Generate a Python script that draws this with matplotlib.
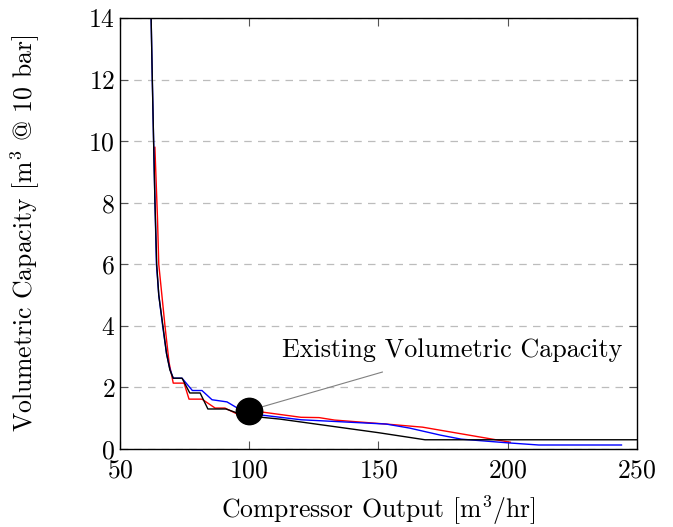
import matplotlib
matplotlib.use('Agg')
import matplotlib.pyplot as plt

# LaTeX-like look
plt.rcParams['font.family'] = 'serif'
plt.rcParams['font.serif'] = ['cmr10', 'DejaVu Serif']
plt.rcParams['mathtext.fontset'] = 'cm'
plt.rcParams['axes.formatter.use_mathtext'] = True

# data
black_x = [62, 62.5, 63, 63.5, 64.2, 65, 66.6, 68, 69.3, 70.6, 74, 77, 81, 84, 91, 97,
           100, 112, 150, 168, 250]
black_y = [14.2, 12, 10, 8.1, 6.0, 5.0, 4.0, 3.1, 2.57, 2.3, 2.3, 1.82, 1.82, 1.3, 1.3, 1.12,
           1.07, 0.97, 0.53, 0.3, 0.3]

blue_x = [62, 62.5, 63, 63.5, 64.1, 65, 66.5, 68, 69.3, 70.6, 74, 78, 81.7, 85.6, 91.4, 96,
          100, 120, 153, 162, 174, 182, 200, 212, 244]
blue_y = [14.2, 12, 10, 8.1, 6.0, 5.0, 4.0, 3.1, 2.6, 2.3, 2.3, 1.9, 1.9, 1.6, 1.53, 1.3,
          1.15, 0.95, 0.81, 0.68, 0.45, 0.32, 0.2, 0.13, 0.13]

red_x = [63.5, 64.5, 65, 67.4, 69, 70.6, 74.8, 76.7, 81.7, 86.8, 90.6, 95, 105, 120, 127,
         133, 153, 167, 201]
red_y = [9.8, 7.5, 6.0, 4.0, 2.8, 2.14, 2.14, 1.62, 1.62, 1.33, 1.33, 1.15, 1.2, 1.03, 1.02,
         0.94, 0.81, 0.71, 0.22]

existing_x, existing_y = 100, 1.25
label_x, label_y = 178.5, 3.2
pin_x, pin_y = 151.5, 2.5

fig = plt.figure(figsize=(6.73, 5.27), dpi=100)
ax = fig.add_axes([0.1783, 0.148, 0.7682, 0.8178])

ax.plot(red_x, red_y, color='red', lw=1.0)
ax.plot(blue_x, blue_y, color='blue', lw=1.0)
ax.plot(black_x, black_y, color='black', lw=1.0)

ax.plot([existing_x], [existing_y], 'o', color='black', markersize=19, zorder=5)
ax.plot([existing_x, pin_x], [existing_y, pin_y], color='gray', lw=0.8, zorder=4)
ax.text(label_x, label_y, 'Existing Volumetric Capacity', ha='center', va='center',
        fontsize=18.8)

ax.set_xlim(50, 250)
ax.set_ylim(0, 14)
ax.set_xticks([50, 100, 150, 200, 250])
ax.set_yticks(range(0, 15, 2))
ax.yaxis.grid(True, linestyle=(0, (6, 5)), color='#bcbcbc', lw=0.9)
ax.set_axisbelow(True)

ax.tick_params(direction='in', length=6, width=0.8, top=True, right=True,
               labelsize=18.5, color='#555555')
ax.tick_params(axis='x', pad=7)
for s in ax.spines.values():
    s.set_linewidth(1.0)

ax.set_xlabel('Compressor Output [m$^3$/hr]', fontsize=18.5, labelpad=8)
ax.set_ylabel('Volumetric Capacity [m$^3$ @ 10 bar]', fontsize=18.5, labelpad=33)

fig.savefig('out.png', dpi=100)
